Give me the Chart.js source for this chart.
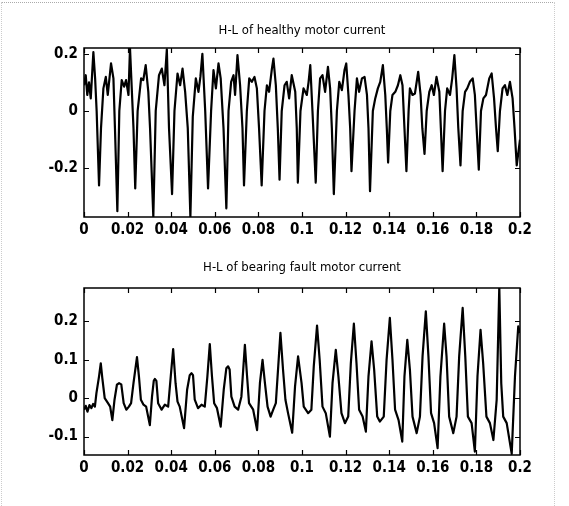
<!DOCTYPE html>
<html>
<head>
<meta charset="utf-8">
<title>H-L motor current</title>
<script src="https://cdn.jsdelivr.net/npm/chart.js@4.4.1/dist/chart.umd.min.js"></script>
<style>
  body { margin: 0; background: #fff; }
  #wrap { position: relative; width: 569px; height: 506px; }
  #frame { position: absolute; left: 1px; top: 2px; width: 552px; height: 503px;
           border-top: 1px dotted #aaa; border-left: 1px dotted #ccc; border-right: 1px dotted #ccc; }
  canvas { position: absolute; left: 0; }
</style>
</head>
<body>
<div id="wrap">
  <div id="frame"></div>
  <canvas id="chartTop" width="569" height="253" style="top:0"></canvas>
  <canvas id="chartBottom" width="569" height="253" style="top:253px"></canvas>
</div>
<script>
// time axis (s) shared by both plots
const xTicks = [0, 0.02, 0.04, 0.06, 0.08, 0.1, 0.12, 0.14, 0.16, 0.18, 0.2]
const xTickLabels = ['0', '0.02', '0.04', '0.06', '0.08', '0.1', '0.12', '0.14', '0.16', '0.18', '0.2']

// top: healthy motor
const healthyTitle = 'H-L of healthy motor current'
const healthyTicks = [-0.2, 0, 0.2]
const healthyTickLabels = ['-0.2', '0', '0.2']
const healthyT = [
  0, 0.0008, 0.0015, 0.0023, 0.0031, 0.0043, 0.0051, 0.0058, 0.0069,
  0.0078, 0.0089, 0.0100, 0.0109, 0.0124, 0.0135, 0.0142, 0.0153,
  0.0162, 0.0173, 0.0184, 0.0193, 0.0204, 0.0211, 0.0227, 0.0235,
  0.0246, 0.0262, 0.0272, 0.0283, 0.0295, 0.0303, 0.0318,
  0.0329, 0.0344, 0.0357, 0.0369, 0.0380, 0.0390, 0.0404,
  0.0415, 0.0429, 0.0441, 0.0452, 0.0464, 0.0476, 0.0488,
  0.0499, 0.0513, 0.0525, 0.0534, 0.0543, 0.0556, 0.0569,
  0.0583, 0.0594, 0.0605, 0.0617, 0.0627, 0.0640, 0.0653,
  0.0663, 0.0675, 0.0686, 0.0693, 0.0704, 0.0716, 0.0727, 0.0734,
  0.0747, 0.0758, 0.0770, 0.0782, 0.0793, 0.0803, 0.0815,
  0.0828, 0.0839, 0.0849, 0.0862, 0.0869, 0.0880, 0.0889, 0.0897,
  0.0907, 0.0920, 0.0930, 0.0941, 0.0953, 0.0969, 0.0976, 0.0981,
  0.0993, 0.1007, 0.1022, 0.1030, 0.1038, 0.1048, 0.1063,
  0.1073, 0.1083, 0.1094, 0.1106, 0.1119, 0.1129, 0.1137, 0.1146,
  0.1160, 0.1171, 0.1183, 0.1195, 0.1203, 0.1213, 0.1221, 0.1227,
  0.1241, 0.1252, 0.1262, 0.1275, 0.1287, 0.1298, 0.1305, 0.1312,
  0.1325, 0.1336, 0.1348, 0.1359, 0.1371, 0.1382, 0.1389, 0.1395,
  0.1405, 0.1415, 0.1428, 0.1440, 0.1451, 0.1461, 0.1470, 0.1479,
  0.1489, 0.1495, 0.1507, 0.1518, 0.1533, 0.1544, 0.1552, 0.1562,
  0.1572, 0.1584, 0.1595, 0.1605, 0.1617, 0.1630, 0.1637, 0.1645,
  0.1656, 0.1666, 0.1679, 0.1689, 0.1699, 0.1709, 0.1717, 0.1727,
  0.1737, 0.1748, 0.1758, 0.1770, 0.1783, 0.1793, 0.1801, 0.1811,
  0.1821, 0.1832, 0.1844, 0.1859, 0.1870, 0.1881, 0.1890, 0.1898,
  0.1908, 0.1920, 0.1931, 0.1942, 0.1954, 0.1966, 0.1975, 0.1985,
  0.2000
]
const healthyV = [
  0.09, 0.125, 0.056, 0.10, 0.044, 0.206, 0.114, 0.0, -0.26,
  -0.06, 0.079, 0.119, 0.056, 0.166, 0.114, -0.06, -0.35,
  0.0, 0.108, 0.085, 0.108, 0.056, 0.22, -0.06, -0.27,
  0.0, 0.114, 0.108, 0.16, 0.067, -0.06, -0.37,
  0.0, 0.125, 0.148, 0.09, 0.215, -0.06, -0.29,
  0.0, 0.131, 0.09, 0.148, 0.067, -0.06, -0.37,
  -0.02, 0.114, 0.067, 0.12, 0.2, 0.0, -0.27,
  0.0, 0.143, 0.079, 0.166, 0.114, -0.06, -0.34,
  0.0, 0.102, 0.125, 0.056, 0.195, 0.09, -0.06, -0.26,
  0.0, 0.114, 0.102, 0.119, 0.079, -0.06, -0.26,
  0.0, 0.09, 0.067, 0.148, 0.183, 0.09, -0.06, -0.24,
  0.0, 0.09, 0.102, 0.044, 0.125, 0.067, -0.06, -0.25,
  0.0, 0.079, 0.056, 0.10, 0.16, 0.0, -0.25,
  0.0, 0.114, 0.125, 0.067, 0.154, 0.079, -0.06, -0.29,
  0.0, 0.102, 0.073, 0.143, 0.166, 0.056, -0.06, -0.21,
  0.0, 0.114, 0.067, 0.114, 0.119, 0.056, -0.06, -0.28,
  0.0, 0.044, 0.079, 0.102, 0.16, 0.056, -0.06, -0.18,
  0.0, 0.056, 0.067, 0.09, 0.125, 0.09, -0.06, -0.21,
  0.0, 0.079, 0.056, 0.061, 0.137, 0.056, -0.06, -0.15,
  0.0, 0.067, 0.09, 0.056, 0.119, 0.067, -0.06, -0.21,
  0.0, 0.079, 0.056, 0.114, 0.195, 0.079, -0.06, -0.19,
  0.0, 0.067, 0.079, 0.102, 0.114, 0.056, -0.06, -0.205,
  0.0, 0.044, 0.056, 0.114, 0.131, 0.044, -0.06, -0.14,
  0.0, 0.079, 0.09, 0.056, 0.102, 0.044, -0.06, -0.19,
  -0.10
]

// bottom: bearing fault motor
const faultTitle = 'H-L of bearing fault motor current'
const faultTicks = [-0.1, 0, 0.1, 0.2]
const faultTickLabels = ['-0.1', '0', '0.1', '0.2']
const faultT = [
  0.0000, 0.0008, 0.0016, 0.0025, 0.0034, 0.0042, 0.0050, 0.0057, 0.0069, 0.0077, 0.0084, 0.0095, 0.0110, 0.0120, 0.0130,
  0.0140, 0.0151, 0.0161, 0.0171, 0.0182, 0.0194, 0.0206, 0.0216, 0.0227, 0.0243, 0.0252, 0.0261, 0.0273, 0.0285, 0.0302,
  0.0312, 0.0320, 0.0325, 0.0332, 0.0340, 0.0356, 0.0371, 0.0386, 0.0398, 0.0409, 0.0420, 0.0429, 0.0439, 0.0459,
  0.0473, 0.0485, 0.0493, 0.0500, 0.0508, 0.0523, 0.0539, 0.0554, 0.0566, 0.0577, 0.0587, 0.0597, 0.0610, 0.0627,
  0.0641, 0.0653, 0.0661, 0.0668, 0.0676, 0.0691, 0.0707, 0.0722, 0.0738, 0.0748, 0.0757, 0.0776, 0.0794,
  0.0807, 0.0819, 0.0830, 0.0842, 0.0856, 0.0868, 0.0880, 0.0891, 0.0901, 0.0913, 0.0924, 0.0936, 0.0955,
  0.0968, 0.0982, 0.0998, 0.1008, 0.1028, 0.1043, 0.1054, 0.1069, 0.1081, 0.1094, 0.1109, 0.1128,
  0.1140, 0.1155, 0.1167, 0.1181, 0.1197, 0.1212, 0.1224, 0.1238, 0.1250, 0.1262, 0.1278, 0.1293,
  0.1305, 0.1319, 0.1331, 0.1345, 0.1357, 0.1375, 0.1388, 0.1403, 0.1415, 0.1427, 0.1443, 0.1460,
  0.1470, 0.1483, 0.1495, 0.1507, 0.1526, 0.1541, 0.1553, 0.1568, 0.1580, 0.1592, 0.1606, 0.1622,
  0.1635, 0.1652, 0.1663, 0.1675, 0.1694, 0.1709, 0.1721, 0.1737, 0.1749, 0.1761, 0.1778, 0.1793,
  0.1805, 0.1819, 0.1831, 0.1846, 0.1862, 0.1878, 0.1893, 0.1905, 0.1914, 0.1923, 0.1939, 0.1962,
  0.1977, 0.1992, 0.2000
]
const faultV = [
  -0.030, -0.020, -0.035, -0.018, -0.026, -0.015, -0.022, 0.013, 0.057, 0.091, 0.052, 0.0, -0.013, -0.022, -0.057,
  -0.004, 0.035, 0.039, 0.036, -0.013, -0.030, -0.022, -0.013, 0.039, 0.107, 0.057, -0.004, -0.017, -0.022, -0.070,
  0.004, 0.045, 0.050, 0.045, -0.013, -0.030, -0.017, -0.022, 0.057, 0.128, 0.039, -0.009, -0.022, -0.078,
  0.022, 0.060, 0.065, 0.060, -0.004, -0.026, -0.017, -0.022, 0.057, 0.141, 0.057, -0.013, -0.026, -0.074,
  0.022, 0.078, 0.083, 0.075, 0.004, -0.022, -0.030, 0.004, 0.139, 0.057, -0.013, -0.030, -0.083,
  0.039, 0.100, 0.039, -0.022, -0.048, -0.030, -0.013, 0.083, 0.170, 0.074, -0.004, -0.039, -0.090,
  0.030, 0.109, 0.039, -0.022, -0.039, -0.030, 0.083, 0.189, 0.100, -0.022, -0.039, -0.100,
  0.039, 0.126, 0.057, -0.039, -0.065, -0.048, 0.091, 0.194, 0.091, -0.030, -0.048, -0.087,
  0.057, 0.148, 0.074, -0.048, -0.061, -0.048, 0.100, 0.209, 0.100, -0.030, -0.057, -0.113,
  0.057, 0.152, 0.074, -0.048, -0.091, -0.048, 0.109, 0.226, 0.109, -0.039, -0.065, -0.130,
  0.057, 0.194, 0.109, -0.048, -0.091, -0.048, 0.109, 0.235, 0.109, -0.048, -0.065, -0.139,
  0.057, 0.178, 0.091, -0.048, -0.065, -0.109, -0.004, 0.290, 0.039, -0.048, -0.065, -0.145,
  0.057, 0.187, 0.170
]

const fontFamily = "'Liberation Sans Narrow', 'DejaVu Sans Condensed', 'Liberation Sans', Arial, sans-serif"

// matlab style: closed box, inward ticks, title over the axes
const matlabBox = {
    id: 'matlabBox',
    afterDraw(chart, args, opts) {
        const { ctx, chartArea: a, scales } = chart
        ctx.save()
        ctx.strokeStyle = '#000'
        ctx.lineWidth = 1.5
        ctx.strokeRect(a.left, a.top, a.right - a.left, a.bottom - a.top)
        ctx.lineWidth = 1.2
        ctx.beginPath()
        scales.x.ticks.forEach(t => {
            const px = Math.round(scales.x.getPixelForValue(t.value)) + 0.5
            ctx.moveTo(px, a.bottom); ctx.lineTo(px, a.bottom - 5)
            ctx.moveTo(px, a.top); ctx.lineTo(px, a.top + 5)
        })
        scales.y.ticks.forEach(t => {
            const py = Math.round(scales.y.getPixelForValue(t.value)) + 0.5
            ctx.moveTo(a.left, py); ctx.lineTo(a.left + 5, py)
            ctx.moveTo(a.right, py); ctx.lineTo(a.right - 5, py)
        })
        ctx.stroke()
        ctx.fillStyle = '#000'
        ctx.font = '13px ' + fontFamily
        ctx.textAlign = 'center'
        ctx.textBaseline = 'middle'
        ctx.fillText(opts.text, (a.left + a.right) / 2, a.top + opts.titleOffset)
        ctx.restore()
    }
}

function makeChart(id, title, titleOffset, t, v, yMin, yMax, yTicks, yTickLabels, padTop, padBottom) {
    return new Chart(document.getElementById(id), {
        type: 'line',
        data: {
            datasets: [{
                data: t.map((x, i) => ({ x: x, y: v[i] })),
                borderColor: '#000',
                borderWidth: 2.2,
                borderJoinStyle: 'round',
                pointRadius: 0,
                tension: 0,
                fill: false
            }]
        },
        options: {
            responsive: false,
            animation: false,
            devicePixelRatio: 1,
            layout: { padding: { left: 0, right: 49, top: padTop, bottom: padBottom } },
            plugins: {
                legend: { display: false },
                tooltip: { enabled: false },
                matlabBox: { text: title, titleOffset: titleOffset }
            },
            scales: {
                x: {
                    type: 'linear',
                    min: 0,
                    max: 0.2,
                    afterBuildTicks: s => { s.ticks = xTicks.map(val => ({ value: val })) },
                    afterFit: s => { s.height = 30 },
                    grid: { display: false, drawTicks: false },
                    border: { display: false },
                    ticks: {
                        autoSkip: false,
                        maxRotation: 0,
                        padding: 4,
                        color: '#000',
                        font: { family: fontFamily, size: 15, weight: 'bold' },
                        callback: (val, i) => xTickLabels[i]
                    }
                },
                y: {
                    type: 'linear',
                    min: yMin,
                    max: yMax,
                    afterBuildTicks: s => { s.ticks = yTicks.map(val => ({ value: val })) },
                    afterFit: s => { s.width = 84 },
                    grid: { display: false, drawTicks: false },
                    border: { display: false },
                    ticks: {
                        autoSkip: false,
                        padding: 6,
                        color: '#000',
                        font: { family: fontFamily, size: 15, weight: 'bold' },
                        callback: (val, i) => yTickLabels[i]
                    }
                }
            }
        },
        plugins: [matlabBox]
    })
}

makeChart('chartTop', healthyTitle, -17, healthyT, healthyV, -0.37, 0.22, healthyTicks, healthyTickLabels, 48, 6)
makeChart('chartBottom', faultTitle, -20, faultT, faultV, -0.148, 0.287, faultTicks, faultTickLabels, 35, 21)
</script>
</body>
</html>
